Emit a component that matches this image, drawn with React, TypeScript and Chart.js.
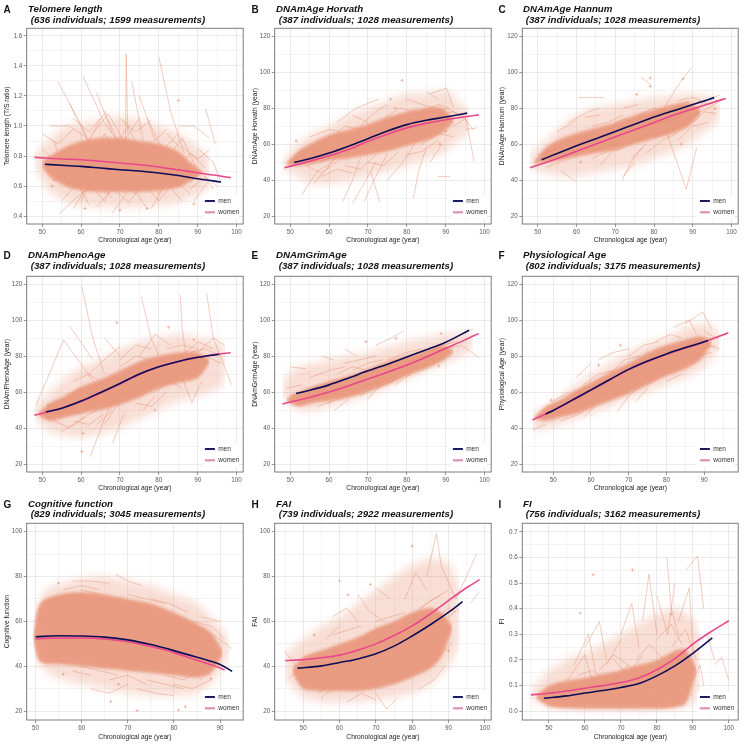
import React, { useEffect, useRef } from "react";
import { Chart, registerables } from "chart.js";

// soft edges for density bands (registered before Filler so the filter applies to the fill)
const bandBlur = {
  id: "bandBlur",
  beforeDatasetDraw(chart: any, args: any) {
    const ds = chart.data.datasets[args.index];
    if (ds && ds.blurPx) {
      chart.ctx.save();
      chart.ctx.filter = `blur(${ds.blurPx}px)`;
    }
  },
  afterDatasetDraw(chart: any, args: any) {
    const ds = chart.data.datasets[args.index];
    if (ds && ds.blurPx) chart.ctx.restore();
  },
};
Chart.register(bandBlur);
Chart.register(...registerables);

type Pt = [number, number];

const FONT = "'Liberation Sans', Arial, sans-serif";
const xAxisTitle = "Chronological age (year)";

// ---------- tick values ----------
const age50to100Major = [50, 60, 70, 80, 90, 100];
const age55to95Minor = [55, 65, 75, 85, 95];
const age45to95Minor = [45, 55, 65, 75, 85, 95];
const age50to90Major = [50, 60, 70, 80, 90];
const age55to85Minor = [55, 65, 75, 85];
const telomereMajor = [0.4, 0.6, 0.8, 1.0, 1.2, 1.4, 1.6];
const telomereMinor = [0.5, 0.7, 0.9, 1.1, 1.3, 1.5];
const dnamMajor = [20, 40, 60, 80, 100, 120];
const dnamMinor = [30, 50, 70, 90, 110];
const scoreMajor = [20, 40, 60, 80, 100];
const scoreMinor = [30, 50, 70, 90];
const fiMajor = [0, 0.1, 0.2, 0.3, 0.4, 0.5, 0.6, 0.7];
const fiMinor = [0.05, 0.15, 0.25, 0.35, 0.45, 0.55, 0.65];

// ---------- A: Telomere length ----------
const telomereMen: Pt[] = [[50.7, 0.745], [55, 0.738], [60, 0.731], [65, 0.72], [70, 0.709], [75, 0.7], [80, 0.687], [85, 0.67], [90, 0.649], [96, 0.627]];
const telomereWomen: Pt[] = [[48, 0.79], [55, 0.78], [60, 0.775], [65, 0.765], [70, 0.753], [75, 0.742], [80, 0.727], [85, 0.708], [90, 0.688], [95, 0.67], [98.5, 0.656]];
const telomereCoreAge = [50, 52, 56, 60, 65, 70, 75, 80, 85, 88, 91];
const telomereCoreLow = [0.73, 0.66, 0.6, 0.57, 0.56, 0.56, 0.56, 0.57, 0.59, 0.63, 0.68];
const telomereCoreHigh = [0.76, 0.8, 0.86, 0.9, 0.92, 0.92, 0.9, 0.88, 0.83, 0.76, 0.7];
const telomereOuterAge = [48, 52, 56, 60, 65, 70, 75, 80, 85, 90, 93];
const telomereOuterLow = [0.74, 0.56, 0.5, 0.47, 0.46, 0.46, 0.46, 0.47, 0.49, 0.54, 0.6];
const telomereOuterHigh = [0.8, 0.92, 1.0, 1.02, 1.04, 1.06, 1.04, 1.0, 0.95, 0.86, 0.78];
const telomereTraj = [
  "71.4 0.80 71.6 1.48 72 0.95", "54 1.30 60 1.0 63 0.82", "60.5 1.33 66 1.02 70 0.88", "80 1.46 83 1.1 86.5 0.82",
  "92 1.12 94.5 0.88", "85 1.0 89 1.0 93 0.92", "52 1.0 57 1.0 61 0.93", "54.5 0.42 60 0.55 64.5 0.62",
  "58 0.45 63 0.66 68 0.52", "66 1.1 70 0.86 75 1.05", "75 1.2 79 0.9 82 0.98", "68 0.42 73 0.6 77 0.45",
  "78 0.45 82 0.62 86 0.5", "88 0.58 92 0.66 95 0.6", "50 0.85 55 0.72 59 0.8", "62 0.7 66 0.95 71 0.74",
  "64 1.22 68 0.95", "57 1.15 62 0.9 65 1.05", "73 1.3 76 0.9", "82 0.78 86 0.92 90 0.7",
  "89 0.5 93 0.64", "56 0.6 61 0.78 66 0.65", "69 0.6 74 0.82 78 0.66", "76 0.7 80 0.55 84 0.72",
  "53 0.9 57 0.58", "60 0.5 65 0.75 70 0.62", "84 0.66 88 0.82 92 0.72", "67 0.8 72 1.0 76 0.8",
  "48 0.8 52 0.78", "90 0.85 94 0.76 96 0.62", "63 0.95 67 1.08 71 0.9", "77 1.05 81 0.84 85 0.95",
  "50 0.95 54 0.88 58 0.98", "55 0.5 59 0.62 62 0.48", "64 0.46 68 0.58 72 0.5", "72 0.48 76 0.62 80 0.5",
  "80 0.5 84 0.64 88 0.55", "86 0.86 90 0.78 93 0.84", "58 1.05 62 0.96 66 1.08", "70 1.05 74 0.96 78 1.04",
  "82 0.95 86 0.84", "52 0.72 56 0.66 60 0.74", "88 0.62 91 0.7 94 0.58", "66 0.55 70 0.68 74 0.54",
  "60 0.85 64 0.78 68 0.9", "75 0.88 79 0.76 83 0.86", "62 0.62 66 0.5 69 0.64", "78 0.58 82 0.72 85 0.6",
];
const telomereDots: Pt[] = [[52.5, 0.6], [85, 1.17], [61, 0.45], [70, 0.44], [89, 0.48], [77, 0.45], [53, 0.64]];

// ---------- B: DNAmAge Horvath ----------
const horvathMen: Pt[] = [[51, 49.8], [55, 51.8], [60, 55], [65, 58.8], [70, 63], [75, 67.2], [80, 70.8], [85, 73.2], [90, 75], [95.5, 77.2]];
const horvathWomen: Pt[] = [[48.5, 46.8], [55, 50.5], [60, 53.5], [65, 57], [70, 61.5], [75, 65.5], [80, 69], [85, 71.5], [90, 73.5], [95, 75.2], [98.5, 76.2]];
const horvathCoreAge = [49, 52, 56, 60, 65, 70, 75, 80, 85, 89, 92];
const horvathCoreLow = [48.5, 48, 49, 51, 52, 54, 56, 59, 62, 66, 72];
const horvathCoreHigh = [49.5, 56, 61, 65, 68, 71, 75, 78, 80, 80, 74];
const horvathOuterAge = [48, 52, 56, 60, 65, 70, 75, 80, 85, 90, 93, 96];
const horvathOuterLow = [46, 42, 38, 38, 40, 42, 45, 48, 52, 56, 62, 66];
const horvathOuterHigh = [50, 60, 66, 70, 76, 80, 84, 88, 88, 90, 84, 78];
const horvathTraj = [
  "53 32 57 45 61 50", "63.5 28 66 40 68 52", "66 27 69 38 72 50", "69 28 72 42 75 55", "73 28 70.7 45",
  "81.7 30 83 45 85 58", "88 42 91 42", "95 76 97.3 50.5", "95 68 98 69", "86 88 90.2 91 92 80",
  "85 89 88 85", "62 72 67 80 72.8 85", "55 64 60 68 63 67", "66 76 70 72", "58 42 62 46 66 44",
  "75 40 79 50 82 60", "80 85 84 82 87 80", "86 50 89 60", "50 50 54 52 58 54", "63 55 67 62 71 58",
  "70 64 74 70 77 66", "77 70 81 74 85 72", "82 62 86 68 90 72", "60 48 64 60", "72 56 76 62 80 60",
  "56 38 60 48", "92 70 95 74 97 68", "68 70 72 78 75 82", "84 78 88 82 91 80", "58 60 61 66 64 64",
  "52 55 56 58 60 52", "54 48 58 44 62 50", "60 62 64 70 68 68", "64 48 68 46 72 54", "70 50 74 48 78 56",
  "74 74 78 80 82 78", "78 64 82 70 86 66", "84 60 88 66 92 64", "86 72 90 80 94 76", "56 56 60 58 64 56",
  "66 64 70 68 74 62", "72 68 76 72 80 76", "80 54 84 56 88 62", "88 76 92 78 95 74", "58 50 62 54 66 60",
];
const horvathDots: Pt[] = [[51.5, 61.8], [78.8, 95.4], [75.8, 85], [77, 80], [88.5, 60], [90, 67]];

// ---------- C: DNAmAge Hannum ----------
const hannumMen: Pt[] = [[51, 51.3], [55, 54.8], [60, 59], [65, 63], [70, 67], [75, 71], [80, 75], [85, 78.5], [90, 82], [95.5, 85.8]];
const hannumWomen: Pt[] = [[48, 46.8], [55, 52], [60, 56], [65, 60], [70, 64], [75, 68], [80, 72], [85, 76], [90, 79.5], [95, 83], [98.5, 85.3]];
const hannumCoreAge = [49, 52, 56, 60, 65, 70, 75, 80, 85, 89, 92];
const hannumCoreLow = [49, 50, 51, 53, 55, 57, 60, 63, 66, 70, 77];
const hannumCoreHigh = [50, 58, 63, 66, 69, 72, 76, 79, 82, 83, 79];
const hannumOuterAge = [48, 52, 56, 60, 65, 70, 75, 80, 85, 90, 95, 97];
const hannumOuterLow = [46, 44, 42, 42, 44, 46, 48, 52, 56, 62, 70, 74];
const hannumOuterHigh = [55, 62, 70, 76, 80, 82, 84, 86, 87, 88, 86, 82];
const hannumTraj = [
  "60.5 85.8 67.2 85.8", "76.6 97.3 79.2 92.6", "82 78 86 92 89.5 102", "83 68 88.3 35 91 58",
  "56 45 60 39", "71.8 40 74 50 77 58", "55 67 60 73", "58 72 63 78 66 80", "62 75 66 76",
  "72 80 76 82", "50 54 55 57", "52 47 56 50", "64 52 68 56 72 58", "78 55 82 62 86 66",
  "90 72 93 78 96 77", "92 82 95 86 97 87", "88 80 92 84", "69 64 73 70 77 68", "80 70 84 74 88 76",
  "74 52 78 60", "85 80 89 84", "57 60 62 64 66 61", "66 48 70 58", "72 42 75 50", "86 62 90 70 94 72",
  "52 56 56 58 60 56", "54 52 58 54 62 58", "60 62 64 66 68 64", "62 54 66 58 70 60", "68 68 72 74 76 72",
  "72 60 76 64 80 66", "76 76 80 80 84 78", "80 64 84 68 88 72", "84 72 88 78 92 80", "86 84 90 86 94 82",
  "64 70 68 72 72 76", "56 62 60 60 64 64", "70 56 74 60 78 64", "78 70 82 72 86 74", "90 76 94 80 97 84",
];
const hannumDots: Pt[] = [[79, 96.7], [79, 92], [87.5, 96.3], [75.5, 87.5], [87, 60], [95.7, 79.7], [61, 50]];

// ---------- D: DNAmPhenoAge ----------
const phenoMen: Pt[] = [[51, 49], [55, 51], [60, 55], [65, 59.8], [70, 64.8], [75, 70], [80, 74], [85, 77], [90, 79.3], [95.5, 81]];
const phenoWomen: Pt[] = [[48, 47.2], [55, 51], [60, 54.8], [65, 59.5], [70, 64.5], [75, 69.8], [80, 74], [85, 77], [90, 79.2], [95, 81], [98.5, 81.8]];
const phenoCoreAge = [49, 52, 56, 60, 65, 70, 75, 80, 85, 90, 93];
const phenoCoreLow = [47, 44, 46, 48, 50, 53, 57, 62, 65, 68, 76];
const phenoCoreHigh = [48, 54, 58, 63, 67, 72, 77, 80, 82, 82, 78];
const phenoOuterAge = [48, 52, 56, 60, 65, 70, 75, 80, 85, 90, 95, 97];
const phenoOuterLow = [46, 38, 36, 35, 37, 40, 45, 50, 55, 58, 62, 66];
const phenoOuterHigh = [52, 60, 68, 74, 78, 84, 88, 90, 92, 90, 88, 86];
const phenoTraj = [
  "48.5 53 55.5 89 64.5 62", "60.2 118.5 63 90 66 70", "75.5 113 78 90 80 80", "85.5 114 86 95 87 80",
  "92.3 115 94 90 98.7 64", "57 97 63 78", "62.3 24 66 45 69 60", "68.1 31.6 71 48", "66 42 70 55",
  "55 38 60 45 64 50", "86 68 88.5 54 91 66", "75 80 79 92 83 86", "62 70 66 78 70 85", "52 50 56 55 60 62",
  "58 66 62 70 66 64", "72 58 76 66 80 70", "80 62 84 72 88 78", "86 80 90 88 94 84", "88 74 92 80 96 76",
  "76 50 79 58", "64 42 68 50", "90 82 94 90 97 86", "70 78 74 86 78 84", "53 44 57 40 61 46",
  "66 90 70 80", "79 60 83 66 86 62",
  "52 46 56 50 60 48", "56 58 60 62 64 58", "60 52 64 56 68 54", "64 64 68 68 72 66", "68 56 72 60 76 58",
  "72 70 76 76 80 74", "76 62 80 66 84 68", "80 76 84 80 88 78", "84 70 88 72 92 76", "88 82 92 84 96 80",
  "58 44 62 42 66 48", "70 74 74 80 78 78", "74 54 78 52 82 60", "66 60 70 66 74 62", "82 84 86 86 90 84",
];
const phenoDots: Pt[] = [[51.5, 52.5], [60.5, 37], [79, 50], [82.5, 96], [89, 89], [69.2, 98.5], [60.2, 27]];

// ---------- E: DNAmGrimAge ----------
const grimMen: Pt[] = [[51.5, 59.2], [55, 61], [60, 64], [65, 67.8], [70, 71.8], [75, 75.5], [80, 79.5], [85, 83.5], [90, 87.7], [96, 94.3]];
const grimWomen: Pt[] = [[48, 53.4], [55, 57], [60, 60], [65, 63.5], [70, 67.3], [75, 71], [80, 75], [85, 79.5], [90, 84.3], [95, 89], [98.5, 92.6]];
const grimCoreAge = [49, 52, 56, 60, 65, 70, 75, 80, 85, 89, 92];
const grimCoreLow = [55, 52, 54, 55, 57, 60, 64, 69, 73, 77, 82];
const grimCoreHigh = [56, 60, 63, 66, 69, 73, 77, 80, 83, 86, 83];
const grimOuterAge = [48, 52, 56, 60, 65, 70, 75, 80, 85, 90, 94, 97];
const grimOuterLow = [58, 50, 50, 52, 55, 58, 63, 67, 72, 76, 80, 84];
const grimOuterHigh = [66, 74, 76, 78, 80, 82, 85, 88, 90, 92, 93, 94];
const grimTraj = [
  "50 74 54 73", "49 62 53 64", "58 80 61 78", "61.3 49.8 65 56", "70 56 73 64", "72 86 76 90 79.2 94",
  "84 74 88 78", "94 86 98.7 79", "90 86 94 92 97 95", "55 68 60 72 64 74", "66 72 70 76 74 78",
  "75 78 80 82 84 84", "60 60 64 62 68 66", "68 58 72 64 76 68", "80 70 84 76 88 80", "85 82 89 86 93 88",
  "57 52 61 55", "53 60 57 58 61 62", "64 84 67 80", "62 70 66 74 70 72", "77 64 81 70", "55 56 59 60 63 58",
  "52 54 56 56 60 58", "54 62 58 64 62 66", "58 58 62 60 66 62", "62 66 66 68 70 70", "66 60 70 64 74 66",
  "70 70 74 72 78 76", "74 66 78 70 82 74", "78 74 82 78 86 80", "82 76 86 80 90 82", "86 80 90 84 94 86",
  "60 54 64 58 68 60", "50 58 54 60", "72 62 76 66 80 70", "80 80 84 82 88 84", "64 76 68 78 72 80",
];
const grimDots: Pt[] = [[77.2, 89.9], [88.2, 74.5], [88.8, 92.5], [69.5, 88], [50.8, 58]];

// ---------- F: Physiological Age ----------
const physMen: Pt[] = [[48, 47.8], [50, 49.8], [55, 55.5], [60, 61.2], [65, 67], [70, 72.6], [75, 77.2], [80, 81.2], [85, 84.7], [91, 88.6]];
const physWomen: Pt[] = [[44.5, 44.5], [50, 49.8], [55, 55.3], [60, 61], [65, 66.8], [70, 72.5], [75, 77], [80, 81], [85, 84.5], [90, 87.8], [96.4, 93]];
const physCoreAge = [45, 48, 52, 56, 60, 65, 70, 75, 80, 85, 89, 92];
const physCoreLow = [45, 44, 46, 48, 51, 55, 59, 64, 69, 73, 78, 87];
const physCoreHigh = [46, 52, 56, 61, 65, 71, 76, 82, 86, 89, 91, 88];
const physOuterAge = [44.5, 48, 52, 56, 60, 65, 70, 75, 80, 85, 90, 94];
const physOuterLow = [38, 40, 42, 45, 48, 52, 56, 60, 64, 68, 74, 84];
const physOuterHigh = [48, 52, 58, 64, 70, 76, 82, 87, 90, 96, 98, 94];
const physTraj = [
  "44.5 39 48 42", "56 68 60 76", "85 98 89.6 104.5 92 95", "82 96 86 100 88 92", "67 49 70 58 73 63",
  "80 66 84 70", "72 55 75 62", "90 94 93 90 96 92", "62 78 66 82 70 84", "58 46 61 52",
  "75 64 79 70 83 72", "65 70 69 78 73 80", "55 58 59 64 63 68", "86 78 90 84 93 86", "70 80 74 86 78 88",
  "50 55 54 60", "52 44 56 47 60 52", "77 88 81 92 84 90", "88 80 91 86 94 84",
  "48 46 52 50 56 52", "50 50 54 54 58 58", "54 50 58 54 62 58", "56 58 60 62 64 66", "60 56 64 60 68 64",
  "62 62 66 68 70 70", "66 62 70 66 74 70", "68 72 72 76 76 80", "72 66 76 70 80 74", "74 76 78 80 82 84",
  "78 72 82 76 86 80", "80 80 84 84 88 86", "84 76 88 80 92 82", "86 86 90 90 94 90", "58 64 62 70 66 72",
  "64 58 68 60 72 64",
];
const physDots: Pt[] = [[49.5, 55.5], [67.8, 86], [62, 75]];

// ---------- G: Cognitive function ----------
const cogMen: Pt[] = [[50, 53.2], [55, 53.6], [60, 53.5], [65, 53], [70, 51.8], [75, 49.7], [80, 47], [85, 44], [90, 40.8], [92.6, 37.8]];
const cogWomen: Pt[] = [[50, 52.2], [55, 52.6], [60, 52.6], [65, 52.2], [70, 51], [75, 48.8], [80, 46.1], [85, 42.7], [90, 39.3], [91, 38.3]];
const cogCoreAge = [49.5, 51, 55, 60, 65, 70, 75, 80, 85, 88, 90.5];
const cogCoreLow = [52, 42, 41, 40, 39, 38, 37, 36, 35, 37, 45];
const cogCoreHigh = [54, 68, 72, 73, 72, 70, 68, 64, 59, 55, 47];
const cogOuterAge = [50, 52, 56, 60, 65, 70, 75, 80, 85, 88, 90, 92];
const cogOuterLow = [44, 38, 34, 32, 30, 28, 27, 27, 28, 32, 38, 44];
const cogOuterHigh = [60, 74, 77, 79, 80, 78, 76, 72, 68, 62, 58, 50];
const cogTraj = [
  "67.4 81 70 78 73 76", "58 78 62 78 66 77", "75 70 79 68 83 64", "86 62 90 60", "88 55 92.6 47.8",
  "58 38 62 36", "72 30 76 28 80 27", "80 32 84 30 88 34", "52 48 56 42", "86 40 88 36",
  "52 60 56 64 60 62", "60 56 64 58 68 54", "68 62 72 60 76 56", "76 50 80 46 84 48", "56 50 60 46 64 48",
  "64 42 68 40 72 38", "70 48 74 46 78 42", "80 40 84 38 86 34", "54 70 58 72 62 70", "60 74 64 72",
  "82 56 86 52 90 50", "74 34 78 32 82 30", "62 30 66 28 70 32", "84 60 88 58 91 52",
  "50 60 54 64 58 66", "52 54 56 56 60 58", "54 44 58 46 62 44", "56 66 60 68 64 66", "58 58 62 60 66 62",
  "62 50 66 52 70 50", "64 64 68 66 72 64", "66 44 70 42 74 44", "68 56 72 54 76 52", "72 66 76 62 80 60",
  "74 44 78 42 82 40", "76 56 80 54 84 52", "78 36 82 34 86 38", "80 60 84 58 88 54", "84 44 88 42 90 40",
  "56 74 60 76 64 74", "70 72 74 70 78 68", "60 40 64 38 68 36", "66 34 70 36 74 32", "82 48 86 46 89 44",
];
const cogDots: Pt[] = [[55, 77], [66.3, 24.3], [72, 20.3], [81, 20.6], [82.5, 22], [68, 32], [56, 36.5], [88, 34.5]];

// ---------- H: FAI ----------
const faiMen: Pt[] = [[48.4, 39.2], [55, 40.2], [60, 41.7], [65, 43.3], [70, 45.6], [75, 49], [80, 53.5], [85, 58.5], [90, 64], [93.9, 68.8]];
const faiWomen: Pt[] = [[45, 42.6], [50, 43], [55, 43.8], [60, 45], [65, 47.2], [70, 50], [75, 53.7], [80, 58], [85, 63.3], [90, 69.3], [95, 75], [98.6, 78.6]];
const faiCoreAge = [47, 50, 55, 60, 65, 70, 75, 80, 85, 88, 91];
const faiCoreLow = [37, 30, 29, 29, 29, 30, 32, 35, 39, 44, 56];
const faiCoreHigh = [39, 44, 47, 50, 53, 57, 60, 64, 66, 64, 58];
const faiOuterAge = [45, 50, 55, 60, 65, 70, 75, 80, 85, 90, 93];
const faiOuterLow = [34, 26, 24, 24, 24, 25, 26, 28, 32, 40, 50];
const faiOuterHigh = [46, 52, 58, 62, 68, 74, 80, 85, 88, 86, 76];
const faiTraj = [
  "44.7 47 48 40", "46 35 49 38", "84 80 86.7 99 88 85", "88 85 92 70", "92 70 95 80 97.7 90",
  "96 68 98.5 73", "65 72 68 65 72 60", "56 52 60 58", "70 75 74 70", "70 28 73 21 76 26",
  "55 26 58 30", "62 24 66 28 70 25", "82 30 86 34 89 40", "50 38 54 42 58 40", "64 40 68 46 72 44",
  "74 50 78 56 82 54", "80 62 84 68 88 72", "86 60 90 66 92 64", "66 52 70 56 74 58", "52 30 56 34 60 32",
  "76 40 80 44 84 50", "78 70 81 82 84 74", "58 62 62 66 65 60",
  "48 34 52 36 56 34", "50 44 54 46 58 44", "54 28 58 32 62 30", "56 40 60 44 64 42", "60 34 64 36 68 38",
  "62 48 66 50 70 52", "66 30 70 34 74 36", "68 42 72 46 76 48", "70 60 74 62 78 64", "74 32 78 36 82 40",
  "76 56 80 60 84 62", "78 46 82 50 86 54", "82 66 86 70 90 74", "84 40 88 46 91 50", "86 56 90 62 93 66",
  "58 54 62 56 66 58", "72 52 76 54 80 58",
];
const faiDots: Pt[] = [[60, 78], [62.3, 71.8], [68.5, 76.5], [80, 93.5], [53, 54], [90, 47]];

// ---------- I: FI ----------
const fiMen: Pt[] = [[48.6, 0.051], [55, 0.06], [60, 0.071], [65, 0.081], [70, 0.093], [75, 0.108], [80, 0.138], [85, 0.177], [90, 0.226], [95.4, 0.286]];
const fiWomen: Pt[] = [[45, 0.064], [50, 0.07], [55, 0.079], [60, 0.09], [65, 0.1], [70, 0.112], [75, 0.13], [80, 0.162], [85, 0.205], [90, 0.262], [95, 0.31], [100, 0.353]];
const fiCoreAge = [46.5, 50, 55, 60, 65, 70, 75, 80, 85, 88, 91];
const fiCoreLow = [0.05, 0.02, 0.012, 0.01, 0.01, 0.01, 0.01, 0.01, 0.015, 0.03, 0.15];
const fiCoreHigh = [0.06, 0.1, 0.12, 0.13, 0.145, 0.16, 0.18, 0.2, 0.235, 0.24, 0.17];
const fiOuterAge = [45, 50, 55, 60, 65, 70, 75, 80, 85, 90, 92];
const fiOuterLow = [0.05, 0.015, 0.008, 0.006, 0.006, 0.006, 0.006, 0.008, 0.01, 0.03, 0.08];
const fiOuterHigh = [0.08, 0.16, 0.2, 0.23, 0.26, 0.3, 0.34, 0.38, 0.4, 0.36, 0.28];
const fiTraj = [
  "82.8 0.6 84 0.4 86 0.3", "88 0.55 91.3 0.606 93 0.4", "96 0.18 98 0.21 100 0.12", "94 0.3 96 0.2",
  "60 0.25 64 0.35 66 0.2", "76 0.35 77.8 0.535 80 0.3", "66 0.18 70 0.28", "55 0.12 60 0.22 62 0.12",
  "80 0.45 83 0.3 85 0.5", "86 0.35 89 0.48 90 0.25", "52 0.05 56 0.1 60 0.06", "62 0.08 66 0.12 70 0.07",
  "72 0.1 76 0.16 80 0.12", "80 0.15 84 0.22 88 0.18", "84 0.25 88 0.32 91 0.2", "64 0.02 68 0.05 72 0.02",
  "74 0.03 78 0.06 82 0.03", "47 0.06 50 0.08", "90 0.12 92 0.18 93 0.1", "68 0.2 72 0.14 76 0.22",
  "70 0.3 73 0.42 75 0.25", "57 0.18 61 0.3 63 0.15",
  "48 0.04 52 0.06 56 0.04", "54 0.08 58 0.1 62 0.08", "56 0.02 60 0.04 64 0.03", "58 0.14 62 0.16 66 0.12",
  "62 0.06 66 0.08 70 0.1", "66 0.03 70 0.04 74 0.06", "68 0.12 72 0.18 76 0.14", "70 0.06 74 0.08 78 0.1",
  "74 0.2 78 0.26 82 0.2", "76 0.08 80 0.1 84 0.14", "78 0.02 82 0.05 86 0.04", "80 0.28 84 0.34 87 0.26",
  "82 0.08 86 0.12 89 0.1", "84 0.15 87 0.2 90 0.14", "86 0.05 88 0.08 90 0.06", "64 0.16 68 0.22 72 0.18",
];
const fiDots: Pt[] = [[58.7, 0.383], [62.3, 0.532], [73.2, 0.551], [84, 0.38]];

// ---------- layout (pixels) ----------
const colLeft = [0, 248, 495];
const colBoxLeft = [26.7, 26.7, 27.3];
const panelW = 248;
const boxRight = 245;
const rowCanvasTop = [0, 248, 494];
const rowCanvasH = [247, 247, 250];
const rowBoxTop = [28.3, 276.3, 523.3];
const rowBoxBottom = [224, 472, 720];
const rowTitleCenter = [9.3, 255.3, 504];

interface Spec {
  letter: string; title: string; sub: string; yTitle: string;
  xr: Pt; yr: Pt; xMajor: number[]; xMinor: number[]; yMajor: number[]; yMinor: number[]; dec: number;
  men: Pt[]; women: Pt[];
  coreAge: number[]; coreLow: number[]; coreHigh: number[];
  outerAge: number[]; outerLow: number[]; outerHigh: number[];
  traj: string[]; dots: Pt[];
}

const specs: Spec[] = [
  { letter: "A", title: "Telomere length", sub: " (636 individuals; 1599 measurements)", yTitle: "Telomere length (T/S ratio)", xr: [46.0, 101.7], yr: [0.347, 1.651], xMajor: age50to100Major, xMinor: age55to95Minor, yMajor: telomereMajor, yMinor: telomereMinor, dec: 1, men: telomereMen, women: telomereWomen, coreAge: telomereCoreAge, coreLow: telomereCoreLow, coreHigh: telomereCoreHigh, outerAge: telomereOuterAge, outerLow: telomereOuterLow, outerHigh: telomereOuterHigh, traj: telomereTraj, dots: telomereDots },
  { letter: "B", title: "DNAmAge Horvath", sub: " (387 individuals; 1028 measurements)", yTitle: "DNAmAge Horvath (year)", xr: [46.0, 101.7], yr: [15.6, 124.3], xMajor: age50to100Major, xMinor: age55to95Minor, yMajor: dnamMajor, yMinor: dnamMinor, dec: 0, men: horvathMen, women: horvathWomen, coreAge: horvathCoreAge, coreLow: horvathCoreLow, coreHigh: horvathCoreHigh, outerAge: horvathOuterAge, outerLow: horvathOuterLow, outerHigh: horvathOuterHigh, traj: horvathTraj, dots: horvathDots },
  { letter: "C", title: "DNAmAge Hannum", sub: " (387 individuals; 1028 measurements)", yTitle: "DNAmAge Hannum (year)", xr: [46.0, 101.7], yr: [15.6, 124.3], xMajor: age50to100Major, xMinor: age55to95Minor, yMajor: dnamMajor, yMinor: dnamMinor, dec: 0, men: hannumMen, women: hannumWomen, coreAge: hannumCoreAge, coreLow: hannumCoreLow, coreHigh: hannumCoreHigh, outerAge: hannumOuterAge, outerLow: hannumOuterLow, outerHigh: hannumOuterHigh, traj: hannumTraj, dots: hannumDots },
  { letter: "D", title: "DNAmPhenoAge", sub: " (387 individuals; 1028 measurements)", yTitle: "DNAmPhenoAge (year)", xr: [46.0, 101.7], yr: [15.6, 124.3], xMajor: age50to100Major, xMinor: age55to95Minor, yMajor: dnamMajor, yMinor: dnamMinor, dec: 0, men: phenoMen, women: phenoWomen, coreAge: phenoCoreAge, coreLow: phenoCoreLow, coreHigh: phenoCoreHigh, outerAge: phenoOuterAge, outerLow: phenoOuterLow, outerHigh: phenoOuterHigh, traj: phenoTraj, dots: phenoDots },
  { letter: "E", title: "DNAmGrimAge", sub: " (387 individuals; 1028 measurements)", yTitle: "DNAmGrimAge (year)", xr: [46.0, 101.7], yr: [15.6, 124.3], xMajor: age50to100Major, xMinor: age55to95Minor, yMajor: dnamMajor, yMinor: dnamMinor, dec: 0, men: grimMen, women: grimWomen, coreAge: grimCoreAge, coreLow: grimCoreLow, coreHigh: grimCoreHigh, outerAge: grimOuterAge, outerLow: grimOuterLow, outerHigh: grimOuterHigh, traj: grimTraj, dots: grimDots },
  { letter: "F", title: "Physiological Age", sub: " (802 individuals; 3175 measurements)", yTitle: "Physiological Age (year)", xr: [41.8, 99.0], yr: [15.6, 124.3], xMajor: age50to90Major, xMinor: age45to95Minor, yMajor: dnamMajor, yMinor: dnamMinor, dec: 0, men: physMen, women: physWomen, coreAge: physCoreAge, coreLow: physCoreLow, coreHigh: physCoreHigh, outerAge: physOuterAge, outerLow: physOuterLow, outerHigh: physOuterHigh, traj: physTraj, dots: physDots },
  { letter: "G", title: "Cognitive function", sub: " (829 individuals; 3045 measurements)", yTitle: "Cognitive function", xr: [48.1, 95.0], yr: [16.1, 103.7], xMajor: age50to90Major, xMinor: age55to85Minor, yMajor: scoreMajor, yMinor: scoreMinor, dec: 0, men: cogMen, women: cogWomen, coreAge: cogCoreAge, coreLow: cogCoreLow, coreHigh: cogCoreHigh, outerAge: cogOuterAge, outerLow: cogOuterLow, outerHigh: cogOuterHigh, traj: cogTraj, dots: cogDots },
  { letter: "H", title: "FAI", sub: " (739 individuals; 2922 measurements)", yTitle: "FAI", xr: [42.1, 101.8], yr: [16.1, 103.7], xMajor: age50to100Major, xMinor: age45to95Minor, yMajor: scoreMajor, yMinor: scoreMinor, dec: 0, men: faiMen, women: faiWomen, coreAge: faiCoreAge, coreLow: faiCoreLow, coreHigh: faiCoreHigh, outerAge: faiOuterAge, outerLow: faiOuterLow, outerHigh: faiOuterHigh, traj: faiTraj, dots: faiDots },
  { letter: "I", title: "FI", sub: " (756 individuals; 3162 measurements)", yTitle: "FI", xr: [42.6, 102.6], yr: [-0.034, 0.733], xMajor: age50to100Major, xMinor: age45to95Minor, yMajor: fiMajor, yMinor: fiMinor, dec: 1, men: fiMen, women: fiWomen, coreAge: fiCoreAge, coreLow: fiCoreLow, coreHigh: fiCoreHigh, outerAge: fiOuterAge, outerLow: fiOuterLow, outerHigh: fiOuterHigh, traj: fiTraj, dots: fiDots },
];

const SALMON_LINE = "rgba(232,145,115,0.72)";
const SALMON_CORE = "rgba(233,150,122,0.9)";
const SALMON_OUTER = "rgba(233,152,124,0.32)";
const MEN_COLOR = "#0e0e58";
const WOMEN_COLOR = "#e9488a";
const MEN_KEY = "#1b1b60";
const WOMEN_KEY = "#dd88b0";

const isIn = (arr: number[], v: number) => arr.some((a) => Math.abs(a - v) < 1e-6);

const frameLegend = {
  id: "frameLegend",
  afterDraw(chart: any) {
    const { ctx, chartArea: a } = chart;
    ctx.save();
    ctx.fillStyle = "#ffffff";
    ctx.fillRect(a.right - 41, a.bottom - 29, 37, 24);
    const items = chart.data.datasets.filter((d: any) => d.legendKey);
    items.forEach((d: any, i: number) => {
      const y = a.bottom - 23 + i * 11.3;
      ctx.strokeStyle = d.legendKey;
      ctx.lineWidth = 2;
      ctx.beginPath();
      ctx.moveTo(a.right - 38.3, y);
      ctx.lineTo(a.right - 28.3, y);
      ctx.stroke();
      ctx.fillStyle = "#333333";
      ctx.font = `6.5px ${FONT}`;
      ctx.textBaseline = "middle";
      ctx.textAlign = "left";
      ctx.fillText(d.label, a.right - 25, y + 0.3);
    });
    ctx.strokeStyle = "#7d7d7d";
    ctx.lineWidth = 1;
    ctx.strokeRect(a.left, a.top, a.right - a.left, a.bottom - a.top);
    ctx.restore();
  },
};

function buildConfig(s: Spec, col: number, row: number): any {
  const toPts = (arr: Pt[]) => arr.map(([x, y]) => ({ x, y }));
  const band = (age: number[], vals: number[]) => age.map((x, i) => ({ x, y: vals[i] }));
  const datasets: any[] = [];
  datasets.push({ label: "men", legendKey: MEN_KEY, data: toPts(s.men), borderColor: MEN_COLOR, borderWidth: 1.6, pointRadius: 0, cubicInterpolationMode: "monotone", fill: false });
  datasets.push({ label: "women", legendKey: WOMEN_KEY, data: toPts(s.women), borderColor: WOMEN_COLOR, borderWidth: 1.6, pointRadius: 0, cubicInterpolationMode: "monotone", fill: false });
  datasets.push({ data: toPts(s.dots), showLine: false, pointStyle: "cross", pointRadius: 1.6, borderColor: SALMON_LINE, borderWidth: 0.8, fill: false });
  s.traj.forEach((t) => {
    const n = t.trim().split(/\s+/).map(Number);
    const pts: { x: number; y: number }[] = [];
    for (let i = 0; i + 1 < n.length; i += 2) pts.push({ x: n[i], y: n[i + 1] });
    datasets.push({ data: pts, borderColor: SALMON_LINE, borderWidth: 0.65, pointRadius: 0, fill: false });
  });
  const clear = "rgba(0,0,0,0)";
  datasets.push({ data: band(s.coreAge, s.coreLow), borderWidth: 0, pointRadius: 0, fill: false, tension: 0.3, borderColor: clear });
  datasets.push({ data: band(s.coreAge, s.coreHigh), borderWidth: 0, pointRadius: 0, fill: "-1", tension: 0.3, backgroundColor: SALMON_CORE, borderColor: clear, blurPx: 1.6 });
  datasets.push({ data: band(s.outerAge, s.outerLow), borderWidth: 0, pointRadius: 0, fill: false, tension: 0.25, borderColor: clear });
  datasets.push({ data: band(s.outerAge, s.outerHigh), borderWidth: 0, pointRadius: 0, fill: "-1", tension: 0.25, backgroundColor: SALMON_OUTER, borderColor: clear, blurPx: 4 });

  const xTicks = [...s.xMajor, ...s.xMinor].sort((a, b) => a - b);
  const yTicks = [...s.yMajor, ...s.yMinor].sort((a, b) => a - b);
  const canvasTop = rowCanvasTop[row];
  const H = rowCanvasH[row];
  const gridColor = (maj: number[]) => (c: any) => (c.tick && isIn(maj, c.tick.value) ? "#e4e4e4" : "#f1f1f1");
  const tickColor = (maj: number[]) => (c: any) => (c.tick && isIn(maj, c.tick.value) ? "#7d7d7d" : "rgba(0,0,0,0)");

  return {
    type: "line",
    data: { datasets },
    plugins: [frameLegend],
    options: {
      animation: false,
      responsive: false,
      events: [],
      layout: { padding: { top: rowBoxTop[row] - canvasTop, right: panelW - boxRight, left: 0, bottom: 0 } },
      plugins: { legend: { display: false }, tooltip: { enabled: false }, title: { display: false } },
      scales: {
        x: {
          type: "linear",
          min: s.xr[0],
          max: s.xr[1],
          afterBuildTicks: (sc: any) => { sc.ticks = xTicks.map((v) => ({ value: v })); },
          afterFit: (sc: any) => { sc.height = canvasTop + H - rowBoxBottom[row]; },
          ticks: {
            autoSkip: false, maxRotation: 0, padding: 1, color: "#5a5a5a",
            font: { size: 6.3, family: FONT },
            callback: (v: number) => (isIn(s.xMajor, v) ? String(Math.round(v)) : ""),
          },
          grid: { color: gridColor(s.xMajor), lineWidth: 0.8, tickLength: 3, tickColor: tickColor(s.xMajor), tickWidth: 0.8 },
          border: { display: false },
          title: { display: true, text: xAxisTitle, color: "#222222", font: { size: 6.7, family: FONT }, padding: { top: 0, bottom: 3 } },
        },
        y: {
          type: "linear",
          min: s.yr[0],
          max: s.yr[1],
          afterBuildTicks: (sc: any) => { sc.ticks = yTicks.map((v) => ({ value: v })); },
          afterFit: (sc: any) => { sc.width = colBoxLeft[col]; },
          ticks: {
            autoSkip: false, padding: 1.5, color: "#5a5a5a",
            font: { size: 6.3, family: FONT },
            callback: (v: number) => (isIn(s.yMajor, v) ? v.toFixed(s.dec) : ""),
          },
          grid: { color: gridColor(s.yMajor), lineWidth: 0.8, tickLength: 3, tickColor: tickColor(s.yMajor), tickWidth: 0.8 },
          border: { display: false },
          title: { display: true, text: s.yTitle, color: "#222222", font: { size: 6.7, family: FONT }, padding: { top: 2.7, bottom: 0 } },
        },
      },
    },
  };
}

function Panel({ spec, idx }: { spec: Spec; idx: number }) {
  const ref = useRef<HTMLCanvasElement>(null);
  const col = idx % 3;
  const row = Math.floor(idx / 3);
  const H = rowCanvasH[row];
  useEffect(() => {
    if (!ref.current) return;
    const chart = new Chart(ref.current, buildConfig(spec, col, row));
    return () => chart.destroy();
  }, []);
  const left = colLeft[col];
  const tc = rowTitleCenter[row];
  return (
    <>
      <canvas
        ref={ref}
        width={panelW}
        height={H}
        style={{ position: "absolute", left, top: rowCanvasTop[row], width: panelW, height: H }}
      />
      <div style={{ position: "absolute", left: left + 3.5, top: tc - 5.5, font: `bold 10px ${FONT}`, lineHeight: "11px", color: "#111" }}>
        {spec.letter}
      </div>
      <div style={{ position: "absolute", left: left + 28, top: tc - 5.25, font: `italic bold 9.7px ${FONT}`, lineHeight: "10.5px", whiteSpace: "pre", color: "#111" }}>
        {spec.title + "\n" + spec.sub}
      </div>
    </>
  );
}

export default function App() {
  return (
    <div style={{ position: "absolute", left: 0, top: 0, width: 744, height: 744, background: "#ffffff", overflow: "hidden" }}>
      {specs.map((s, i) => (
        <Panel key={s.letter} spec={s} idx={i} />
      ))}
    </div>
  );
}
